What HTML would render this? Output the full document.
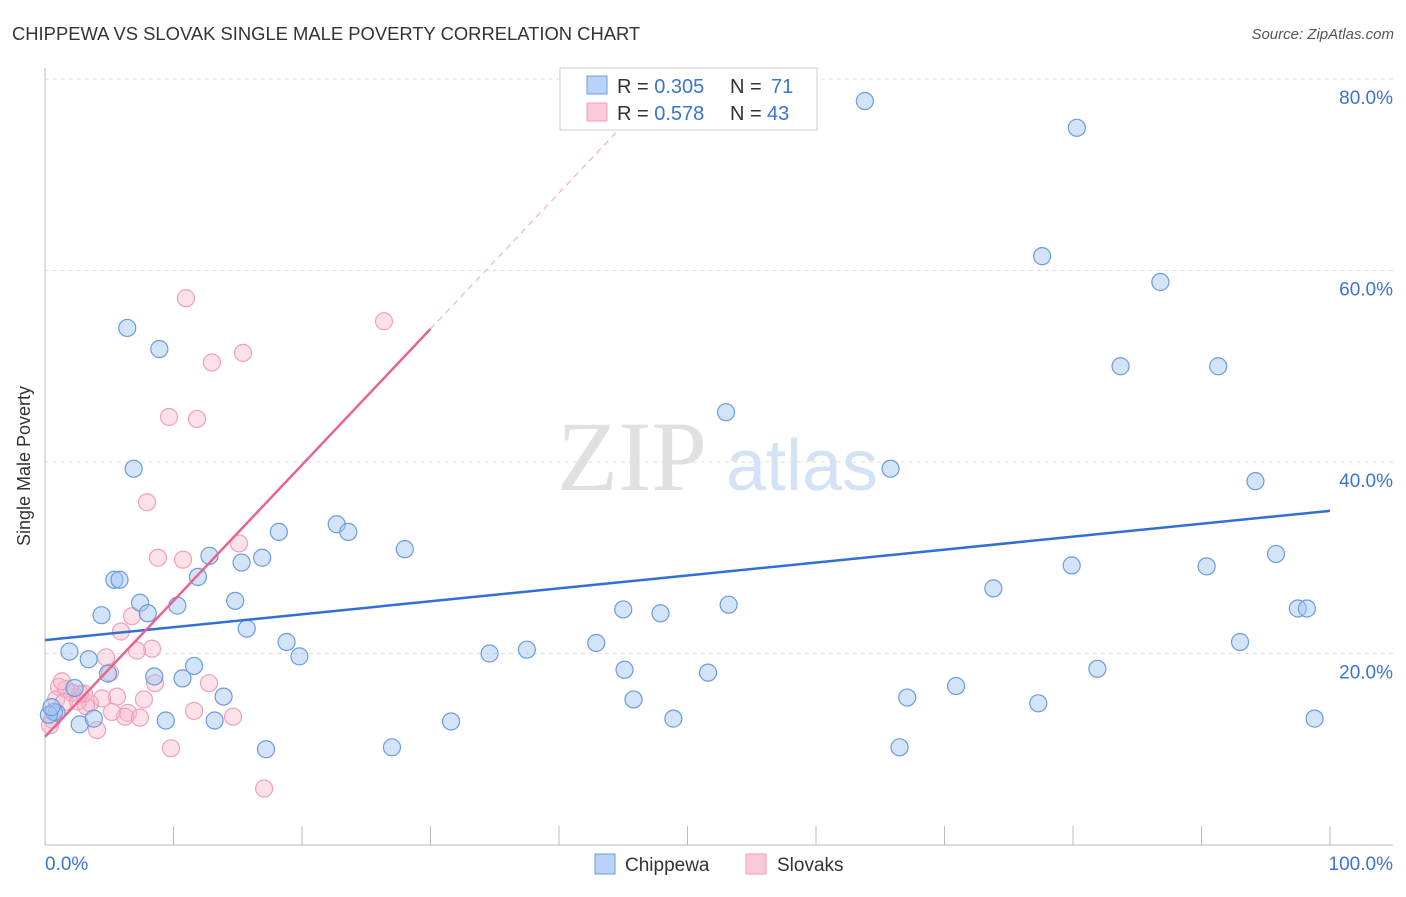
<!DOCTYPE html>
<html><head><meta charset="utf-8"><style>
body{margin:0;background:#fff;font-family:"Liberation Sans",sans-serif}
svg text{font-family:"Liberation Sans",sans-serif}
svg text.serif{font-family:"Liberation Serif",serif}
</style></head><body>
<svg id="chart" width="1406" height="892" xmlns="http://www.w3.org/2000/svg">
<text x="12" y="40" font-size="18.4" fill="#333">CHIPPEWA VS SLOVAK SINGLE MALE POVERTY CORRELATION CHART</text>
<text x="1394" y="39" font-size="15" fill="#555" font-style="italic" text-anchor="end">Source: ZipAtlas.com</text>
<g>
<text class="serif" x="632" y="490" font-size="100" fill="#e0e0e0" text-anchor="middle">ZIP</text>
<text x="802" y="490" font-size="72" fill="#d4e2f5" text-anchor="middle">atlas</text>
</g>
<g id="grid"></g>
<g id="axes"></g>
<g id="marks"></g>
<g>
<rect x="560" y="68" width="257" height="62" fill="#fff" stroke="#ccc"/>
<rect x="587" y="76" width="20" height="18" fill="#b8d3f5" stroke="#6a9be0"/>
<rect x="587" y="103" width="20" height="18" fill="#fbc9d8" stroke="#f0a0b8"/>
<text x="617" y="93" font-size="20" fill="#333">R = <tspan fill="#3b73d0">0.305</tspan><tspan x="730">N = </tspan><tspan fill="#3b73d0" x="771">71</tspan></text>
<text x="617" y="120" font-size="20" fill="#333">R = <tspan fill="#3b73d0"> 0.578</tspan><tspan x="730">N = </tspan><tspan fill="#3b73d0" x="767">43</tspan></text>
</g>
<g>
<rect x="595" y="854" width="20" height="20" fill="#b8d3f5" stroke="#6a9be0"/>
<text x="625" y="871" font-size="19" fill="#333">Chippewa</text>
<rect x="746" y="854" width="20" height="20" fill="#fbc9d8" stroke="#f0a0b8"/>
<text x="777" y="871" font-size="19" fill="#333">Slovaks</text>
</g>
<text x="20" y="456" font-size="18" fill="#333" text-anchor="middle" transform="rotate(-90 30 456)">Single Male Poverty</text>
</svg>
<script>
const yTicks=[20,40,60,80];
const yTickLabels=["20.0%","40.0%","60.0%","80.0%"];
const xTicks=[0,10,20,30,40,50,60,70,80,90,100];
const chippewaX=[6.4,8.9,6.9,5.4,5.8,4.4,7.4,8.0,1.9,3.4,0.9,2.3,0.7,2.7,3.8,4.9,8.5,9.4,10.7,11.6,10.3,11.9,12.8,15.3,14.8,15.7,13.9,13.2,16.9,18.2,17.2,18.8,19.8,22.7,23.6,28.0,27.0,31.6,34.6,37.5,42.9,45.0,45.1,45.8,47.9,48.9,51.6,53.2,53.0,63.8,65.8,66.5,67.1,70.9,73.8,77.3,77.6,79.9,80.3,81.9,83.7,86.8,90.4,91.3,93.0,94.2,95.8,97.5,98.2,98.8,0.3,0.5];
const chippewaY=[54.0,51.8,39.3,27.7,27.7,24.0,25.3,24.2,20.2,19.4,13.8,16.4,13.9,12.6,13.2,17.9,17.6,13.0,17.4,18.7,25.0,28.0,30.2,29.5,25.5,22.6,15.5,13.0,30.0,32.7,10.0,21.2,19.7,33.5,32.7,30.9,10.2,12.9,20.0,20.4,21.1,24.6,18.3,15.2,24.2,13.2,18.0,25.1,45.2,77.7,39.3,10.2,15.4,16.6,26.8,14.8,61.5,29.2,74.9,18.4,50.0,58.8,29.1,50.0,21.2,38.0,30.4,24.7,24.7,13.2,13.6,14.4];
const slovaksX=[10.97,26.38,15.41,12.99,9.65,11.83,7.94,8.79,10.74,15.1,6.77,5.91,8.33,7.16,4.75,5.06,8.56,12.76,11.6,14.63,6.46,6.23,7.39,5.6,4.44,3.5,3.19,2.72,2.1,1.63,1.09,1.32,0.86,1.48,7.7,4.05,9.8,17.05,0.55,0.39,2.57,3.04,5.21];
const slovaksY=[57.1,54.7,51.4,50.4,44.7,44.5,35.8,30.0,29.8,31.5,23.9,22.3,20.5,20.3,19.6,18.0,16.9,16.9,14.0,13.4,13.8,13.4,13.3,15.5,15.3,14.8,14.5,15.8,15.9,16.3,16.5,17.1,15.2,14.9,15.2,12.0,10.1,5.9,13.1,12.5,15.0,15.8,13.9];
const blueFit=[21.4,0.135];
const pinkFit=[11.3,1.42];
const X=v=>45+v*12.85, Y=v=>845-v*9.575;
const NS="http://www.w3.org/2000/svg";
function mk(p,t,a){const e=document.createElementNS(NS,t);for(const k in a)e.setAttribute(k,a[k]);p.appendChild(e);return e;}
const grid=document.getElementById('grid'),axes=document.getElementById('axes'),marks=document.getElementById('marks');
yTicks.forEach((t,i)=>{
 const l=mk(grid,'line',{x1:45,x2:1393,y1:Y(t),y2:Y(t),stroke:'#ddd','stroke-dasharray':'4,4'});
 
 
 const tx=mk(axes,'text',{x:1393,y:Y(t)+25,'font-size':19,fill:'#3b73d0','text-anchor':'end'});
 tx.textContent=yTickLabels[i];
 
 
});
const ax=mk(axes,'line',{x1:45,x2:1393,y1:845,y2:845,stroke:'#bbb'});


const ay=mk(axes,'line',{x1:45,x2:45,y1:68,y2:845,stroke:'#bbb'});


xTicks.forEach(t=>{const l=mk(axes,'line',{x1:X(t),x2:X(t),y1:826,y2:845,stroke:'#bbb'});
 
 });
const x0=mk(axes,'text',{x:45,y:870,'font-size':19,fill:'#3b73d0'});x0.textContent='0.0%';


const x1=mk(axes,'text',{x:1393,y:870,'font-size':19,fill:'#3b73d0','text-anchor':'end'});x1.textContent='100.0%';


slovaksX.forEach((v,i)=>{const c=mk(marks,'circle',{cx:X(v),cy:Y(slovaksY[i]),r:8.5,fill:'rgba(248,180,200,0.4)',stroke:'#f0a0b8','stroke-width':1.2});
 
 });
chippewaX.forEach((v,i)=>{const c=mk(marks,'circle',{cx:X(v),cy:Y(chippewaY[i]),r:8.5,fill:'rgba(160,196,240,0.45)',stroke:'#6a9be0','stroke-width':1.2});
 
 });
const bl=mk(marks,'line',{x1:X(0),y1:Y(blueFit[0]),x2:X(100),y2:Y(blueFit[0]+blueFit[1]*100),stroke:'#2f6fd6','stroke-width':2.5});


const pl=mk(marks,'line',{x1:X(0),y1:Y(pinkFit[0]),x2:X(30),y2:Y(pinkFit[0]+pinkFit[1]*30),stroke:'#e8648e','stroke-width':2.5});


const pd=mk(marks,'line',{x1:X(30),y1:Y(pinkFit[0]+pinkFit[1]*30),x2:X(45),y2:Y(pinkFit[0]+pinkFit[1]*45),stroke:'#f0a0b8','stroke-width':1,'stroke-dasharray':'6,5'});


</script>
</body></html>
